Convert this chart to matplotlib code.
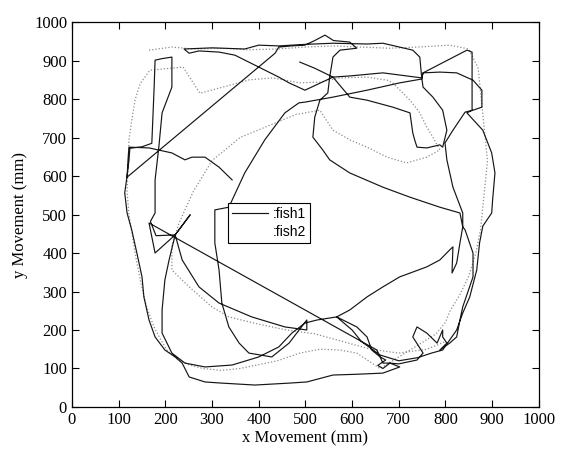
import matplotlib
matplotlib.use("Agg")
import matplotlib.pyplot as plt
import numpy as np

# fish1 trajectory (mm)
fish1_x = [343, 315, 285, 257, 242, 214, 165, 122, 120, 118,
           435, 443, 470, 499, 520, 542, 560, 595, 610, 574, 559, 552, 548, 531,
           520, 516, 537, 552, 595, 666, 724, 788, 831, 837, 842, 859, 859, 837,
           831, 824, 809, 788,
           803, 794, 794, 782, 760, 739, 730, 752, 739, 700, 681, 666, 655, 672,
           660, 653,
           165, 178, 221, 253, 221, 208, 199, 193, 193, 214, 242, 285, 343, 400,
           443, 471, 499, 525, 567, 610, 632, 642, 660, 666, 681, 702, 666, 610,
           559, 503, 465, 392, 321, 285, 251, 236, 221, 199, 178, 165, 154, 150,
           139, 128, 118, 113, 118, 122, 124, 150, 171, 176, 178, 193, 214, 214,
           193, 186, 178, 178, 168, 180, 221, 236, 272, 315, 385, 456, 503, 503,
           465, 428, 379, 358, 336, 321, 315, 306, 306, 336, 370, 413, 456, 486,
           499, 559, 632, 702, 749, 752,
           846, 857, 857, 846, 880, 899, 906, 901, 899, 880, 873, 867, 852, 837,
           824, 809, 794, 770, 740, 700, 660, 620, 600, 567, 595, 632, 666, 702,
           760, 788, 809, 816, 814, 824, 831, 837, 837, 816, 803, 799, 816, 842,
           859, 878, 878, 859, 824, 788, 752, 749, 666, 595, 559, 499, 465, 443,
           400, 370, 349, 315, 272, 251, 240, 300, 370, 400, 443, 499, 559, 632,
           666, 702, 730, 745, 749, 752, 773, 794, 803, 794, 788, 760, 739, 734,
           730, 724, 687, 632, 595, 559, 520, 488]
fish1_y = [590, 623, 649, 649, 642, 660, 673, 675, 640, 597,
           919, 935, 938, 940, 952, 966, 952, 948, 932, 927, 909, 857, 816, 797,
           753, 701, 668, 642, 608, 571, 545, 519, 504, 468, 460, 400, 338, 260,
           226, 182, 166, 148,
           166, 182, 200, 166, 192, 208, 182, 140, 122, 112, 114, 100, 108, 122,
           130, 148,
           478, 400, 447, 499, 447, 382, 330, 252, 192, 140, 114, 104, 109, 130,
           156, 192, 218, 226, 234, 208, 182, 148, 130, 114, 114, 104, 88, 85,
           83, 65, 62, 57, 62, 65, 78, 114, 130, 148, 182, 226, 286, 338,
           400, 460, 504, 556, 600, 640, 672, 676, 685, 831, 901, 905, 909, 831,
           764, 675, 590, 504, 482, 445, 447, 382, 312, 270, 234, 208, 200, 226,
           166, 130, 140, 166, 208, 270, 356, 426, 512, 519, 608, 694, 764, 790,
           792, 805, 823, 842, 852, 868,
           927, 922, 771, 764, 719, 660, 608, 538, 504, 470, 426, 356, 286, 244,
           200, 174, 148, 140, 128, 120, 135, 170, 200, 234, 252, 286, 312, 338,
           364, 382, 408, 416, 348, 374, 426, 468, 504, 571, 642, 686, 719, 766,
           771, 779, 823, 849, 868, 870, 868, 855, 868, 860, 857, 823, 842, 857,
           883, 901, 914, 922, 925, 919, 930, 933, 930, 940, 938, 942, 945, 943,
           945, 935, 927, 909, 857, 831, 805, 771, 719, 675, 681, 673, 675, 694,
           712, 764, 779, 797, 805, 857, 880, 896]

# fish2 trajectory (mm), the faint dotted trace
fish2_x = [165, 214, 260, 320, 380, 440, 500, 560, 620, 680, 740, 809, 850,
           870, 875, 880, 885, 890, 885, 880, 875, 865, 850, 830, 810, 800,
           780, 740, 700, 660, 610, 574, 531, 488, 440, 400, 360, 320, 280,
           250, 225, 205, 190, 175, 160, 148, 138, 130, 122, 118, 120, 122,
           128, 135, 146, 167, 238, 274, 320, 380, 430, 488, 531, 574, 632,
           675, 687, 724, 745, 760, 773, 788, 760, 717, 675, 632, 595, 559,
           531, 480, 420, 360, 300, 260, 230, 214, 214, 251, 300, 336, 400,
           460, 520, 580, 640, 700, 760, 800]
fish2_y = [927, 935, 930, 932, 928, 930, 935, 938, 935, 932, 935, 940, 930,
           880, 820, 760, 700, 640, 580, 520, 460, 400, 340, 290, 250, 220,
           190, 160, 130, 100, 140, 148, 150, 140, 120, 110, 100, 95, 100,
           110, 125, 145, 175, 210, 260, 320, 380, 440, 500, 560, 620, 693,
           745, 797, 840, 875, 883, 815, 830, 850, 855, 842, 844, 855, 857,
           849, 842, 797, 764, 727, 701, 668, 649, 634, 649, 675, 694, 719,
           771, 760, 730, 700, 640, 560, 480, 420, 356, 312, 260, 234, 215,
           200, 190, 170, 150, 140, 150, 170]

fig = plt.figure(figsize=(5.69, 4.51), dpi=100)
ax = fig.add_axes([0.1265, 0.0976, 0.8205, 0.8535])

ax.plot(fish2_x, fish2_y, color='#8c8c8c', linestyle=(0, (1, 1.6)),
        linewidth=0.9, label=':fish2', zorder=1)
ax.plot(fish1_x, fish1_y, color='#151515', linewidth=0.85, label=':fish1',
        zorder=2)

ax.set_xlim(0, 1000)
ax.set_ylim(0, 1000)
ticks = np.arange(0, 1001, 100)
ax.set_xticks(ticks)
ax.set_yticks(ticks)
ax.tick_params(direction='in', top=True, right=True, length=5, width=0.8,
               labelsize=12)
for lab in ax.get_xticklabels() + ax.get_yticklabels():
    lab.set_fontfamily('Liberation Serif')

ax.set_xlabel('x Movement (mm)', fontsize=12, fontfamily='Liberation Serif',
              labelpad=2)
ax.set_ylabel('y Movement (mm)', fontsize=12, fontfamily='Liberation Serif',
              labelpad=4)

for s in ax.spines.values():
    s.set_linewidth(0.9)

h, l = ax.get_legend_handles_labels()
leg = ax.legend(h[::-1], l[::-1], loc='upper left',
                bbox_to_anchor=(0.334, 0.53), borderaxespad=0,
                fancybox=False, edgecolor='black', framealpha=1,
                prop={'family': 'Liberation Sans', 'size': 10},
                handlelength=2.6, handletextpad=0.3, labelspacing=0.3,
                borderpad=0.3)
leg.get_frame().set_linewidth(0.8)
# the light fish2 sample did not print in the original legend
leg.get_lines()[1].set_visible(False)

fig.savefig('out.png', dpi=100)
